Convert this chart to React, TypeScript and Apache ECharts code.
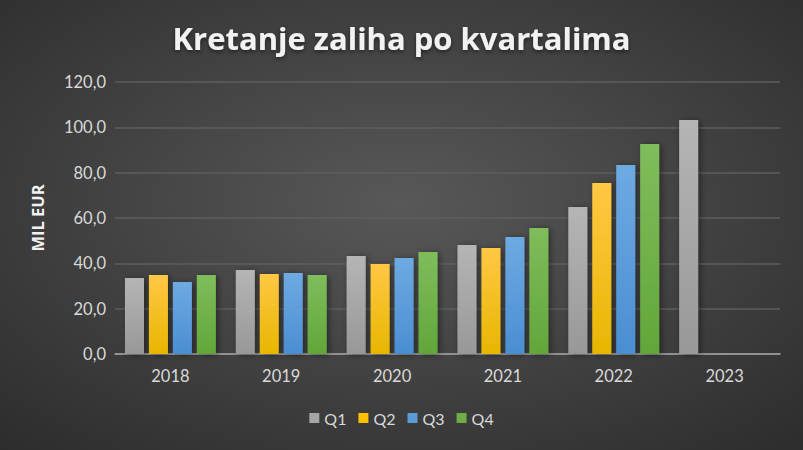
import React, { useEffect, useRef } from "react";
import * as echarts from "echarts";

const years = ["2018", "2019", "2020", "2021", "2022", "2023"];
const q1 = [33.5, 37.1, 43.2, 48.1, 64.9, 103.2];
const q2 = [34.9, 35.3, 39.7, 46.8, 75.4, null];
const q3 = [31.8, 35.7, 42.4, 51.6, 83.4, null];
const q4 = [34.9, 34.9, 45.0, 55.6, 92.6, null];
const seriesNames = ["Q1", "Q2", "Q3", "Q4"];

const lin = (top: string, bottom: string) =>
  new echarts.graphic.LinearGradient(0, 0, 0, 1, [
    { offset: 0, color: top },
    { offset: 1, color: bottom },
  ]);

export default function App() {
  const ref = useRef<HTMLDivElement>(null);
  useEffect(() => {
    const chart = echarts.init(ref.current!, null, { renderer: "svg" });
    const colors = [
      lin("#b5b5b5", "#989898"),
      lin("#ffc845", "#e8b600"),
      lin("#6eaae2", "#4a8ed2"),
      lin("#7fbd5c", "#62a63a"),
    ];
    const legendColors = ["#a6a6a6", "#ffc000", "#5b9bd5", "#70ad47"];
    const data = [q1, q2, q3, q4];
    chart.setOption({
      animation: false,
      backgroundColor: new echarts.graphic.RadialGradient(0.5, 0.45, 0.75, [
        { offset: 0, color: "#585858" },
        { offset: 1, color: "#2c2c2c" },
      ]),
      title: {
        text: "Kretanje zaliha po kvartalima",
        left: "center",
        top: 17,
        textStyle: {
          color: "#f2f2f2",
          fontFamily: "Open Sans",
          fontWeight: "bold",
          fontSize: 31,
          textShadowColor: "rgba(0,0,0,0.5)",
          textShadowBlur: 4,
          textShadowOffsetY: 2,
        },
      },
      legend: {
        bottom: 19,
        left: "center",
        itemWidth: 10,
        itemHeight: 10,
        itemGap: 12,
        icon: "rect",
        textStyle: { color: "#d9d9d9", fontFamily: "Lato", fontSize: 16 },
        data: seriesNames.map((n, i) => ({ name: n, itemStyle: { color: legendColors[i] } })),
      },
      grid: { left: 115, right: 23, top: 82, bottom: 96 },
      xAxis: {
        type: "category",
        data: years,
        axisTick: { show: false },
        axisLine: { lineStyle: { color: "#a6a6a6", width: 1.5 } },
        axisLabel: { color: "#d9d9d9", fontFamily: "Lato", fontSize: 16.5, margin: 13 },
      },
      yAxis: {
        type: "value",
        min: 0,
        max: 120,
        interval: 20,
        name: "MIL EUR",
        nameLocation: "middle",
        nameGap: 69,
        nameRotate: 90,
        nameTextStyle: { color: "#f2f2f2", fontFamily: "Open Sans", fontWeight: "bold", fontSize: 16.5 },
        axisLabel: {
          color: "#d9d9d9",
          fontFamily: "Lato",
          fontSize: 16.5,
          margin: 9,
          formatter: (v: number) => v.toFixed(1).replace(".", ","),
        },
        splitLine: { lineStyle: { color: "#5e5e5e", width: 1.5 } },
      },
      series: data.map((d, i) => ({
        name: seriesNames[i],
        type: "bar",
        data: d,
        barGap: "26%",
        barCategoryGap: "18%",
        itemStyle: {
          color: colors[i],
          shadowColor: "rgba(0,0,0,0.45)",
          shadowBlur: 6,
          shadowOffsetX: 2,
          shadowOffsetY: 1,
        },
      })),
    });
    return () => chart.dispose();
  }, []);
  return <div ref={ref} style={{ width: 803, height: 450, position: "absolute", left: 0, top: 0 }} />;
}
